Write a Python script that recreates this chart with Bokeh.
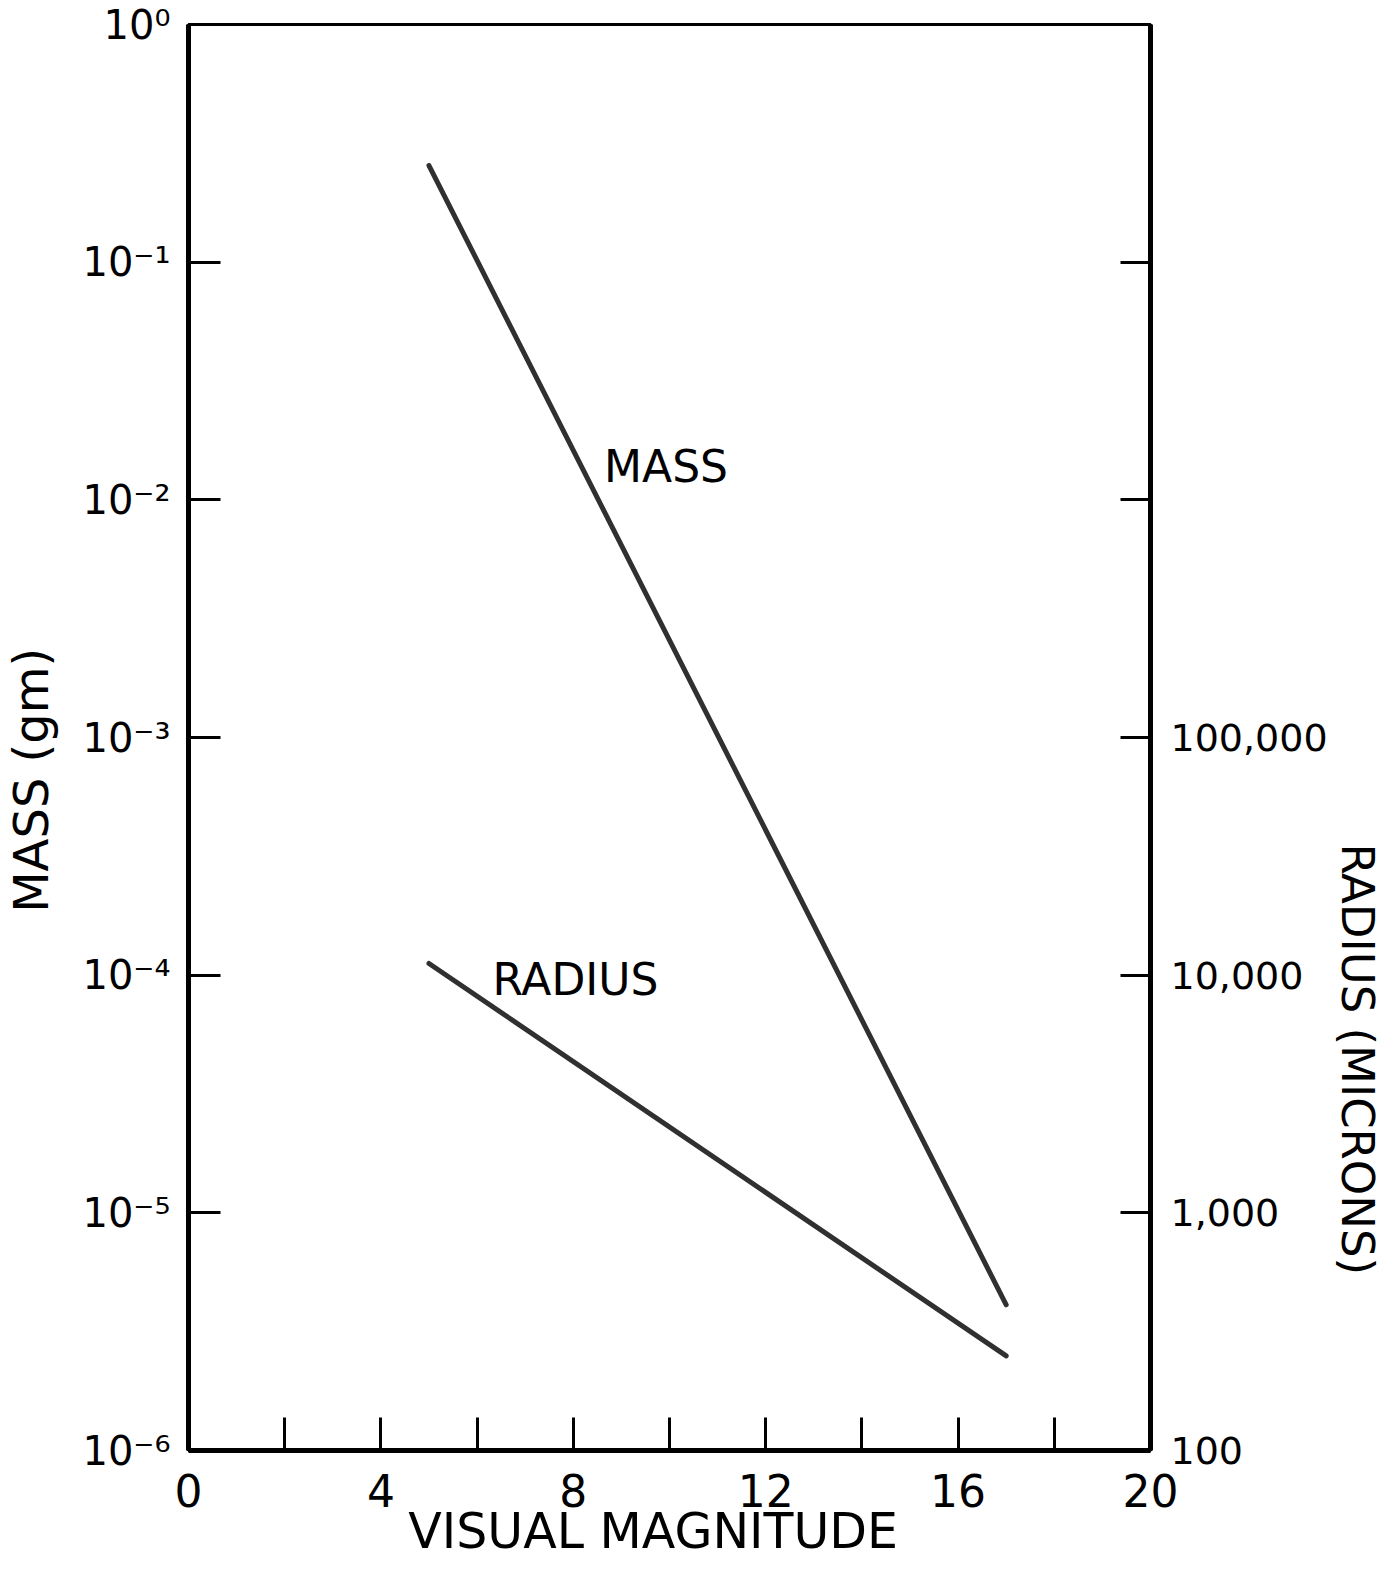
from bokeh.plotting import figure
from bokeh.models import Range1d, LogScale, LogAxis, LinearAxis, FixedTicker, Label
from bokeh.embed import file_html
from bokeh.resources import INLINE

# ---- data ----
magnitude = [5, 17]
mass_gm = [0.255, 4.1e-6]
radius_microns = [11200, 250]

x_ticks = [0, 2, 4, 6, 8, 10, 12, 14, 16, 18, 20]
x_tick_labels = ["0", "", "4", "", "8", "", "12", "", "16", "", "20"]
mass_ticks = [1e0, 1e-1, 1e-2, 1e-3, 1e-4, 1e-5, 1e-6]
mass_tick_labels = ["10\u2070", "10\u207b\u00b9", "10\u207b\u00b2", "10\u207b\u00b3",
                    "10\u207b\u2074", "10\u207b\u2075", "10\u207b\u2076"]
radius_ticks = [1e2, 1e3, 1e4, 1e5, 1e6, 1e7]
radius_tick_labels = ["100", "1,000", "10,000", "100,000", "", ""]

x_title = "VISUAL MAGNITUDE"
left_title = "MASS (gm)"
right_title = "RADIUS (MICRONS)"

FONT = "DejaVu Sans"

p = figure(width=1386, height=1578,
           x_range=Range1d(0, 20), y_range=Range1d(1e-6, 1e0),
           y_axis_type="log",
           output_backend="svg", toolbar_location=None,
           min_border_left=185, min_border_right=236,
           min_border_top=24, min_border_bottom=128)
p.background_fill_color = "white"
p.border_fill_color = "white"
p.grid.visible = False
p.outline_line_color = "black"
p.outline_line_width = 3

p.extra_y_ranges = {"radius": Range1d(1e2, 1e8)}
p.extra_y_scales = {"radius": LogScale()}


def style_ticks(ax, tick_len, font_size, standoff):
    ax.axis_line_width = 5
    ax.axis_line_color = "black"
    ax.major_tick_in = tick_len
    ax.major_tick_out = 0
    ax.major_tick_line_width = 3
    ax.major_tick_line_color = "black"
    ax.minor_tick_line_color = None
    ax.major_label_text_font = FONT
    ax.major_label_text_font_size = font_size
    ax.major_label_text_color = "black"
    ax.major_label_standoff = standoff


def title_axis(ax, text, pos, standoff, font_size, orientation=None):
    # an axis that carries only one label (the title) at a chosen position
    ax.ticker = FixedTicker(ticks=[pos])
    ax.major_label_overrides = {pos: text}
    ax.axis_line_color = None
    ax.major_tick_line_color = None
    ax.minor_tick_line_color = None
    ax.major_tick_in = 0
    ax.major_tick_out = 0
    ax.major_label_standoff = standoff
    ax.major_label_text_font = FONT
    ax.major_label_text_font_size = font_size
    ax.major_label_text_color = "black"
    if orientation is not None:
        ax.major_label_orientation = orientation


# bottom axis (ticks)
xa = p.xaxis[0]
xa.ticker = FixedTicker(ticks=x_ticks)
xa.major_label_overrides = {t: l for t, l in zip(x_ticks, x_tick_labels)}
style_ticks(xa, 33, "44px", 23)

# left axis (ticks)
ya = p.yaxis[0]
ya.ticker = FixedTicker(ticks=mass_ticks)
ya.major_label_overrides = {t: l for t, l in zip(mass_ticks, mass_tick_labels)}
style_ticks(ya, 32, "40px", 18)

# right axis (ticks)
ra = LogAxis(y_range_name="radius", ticker=FixedTicker(ticks=radius_ticks))
ra.major_label_overrides = {t: l for t, l in zip(radius_ticks, radius_tick_labels)}
style_ticks(ra, 30, "38px", 20)
p.add_layout(ra, "right")

# title axes
bt = LinearAxis()
title_axis(bt, x_title, 9.66, -7, "49px")
p.add_layout(bt, "below")

lt = LogAxis()
title_axis(lt, left_title, 10 ** -3.18, 20, "48px", "vertical")
p.add_layout(lt, "left")

rt = LogAxis()
title_axis(rt, right_title, 10 ** -4.354, 0, "45px", "vertical")
p.add_layout(rt, "right")

# curves
p.line(magnitude, mass_gm, line_width=5, line_color="#303030", line_cap="round")
p.line(magnitude, radius_microns, y_range_name="radius",
       line_width=5, line_color="#303030", line_cap="round")

# in-plot labels
p.add_layout(Label(x=8.64, y=10 ** -1.86, text="MASS", text_font=FONT,
                   text_font_size="44px", text_align="left", text_baseline="middle",
                   text_color="black"))
p.add_layout(Label(x=6.32, y=10 ** -4.018, text="RADIUS", text_font=FONT,
                   text_font_size="44px", text_align="left", text_baseline="middle",
                   text_color="black"))

open("out.html", "w").write(file_html(p, INLINE))
